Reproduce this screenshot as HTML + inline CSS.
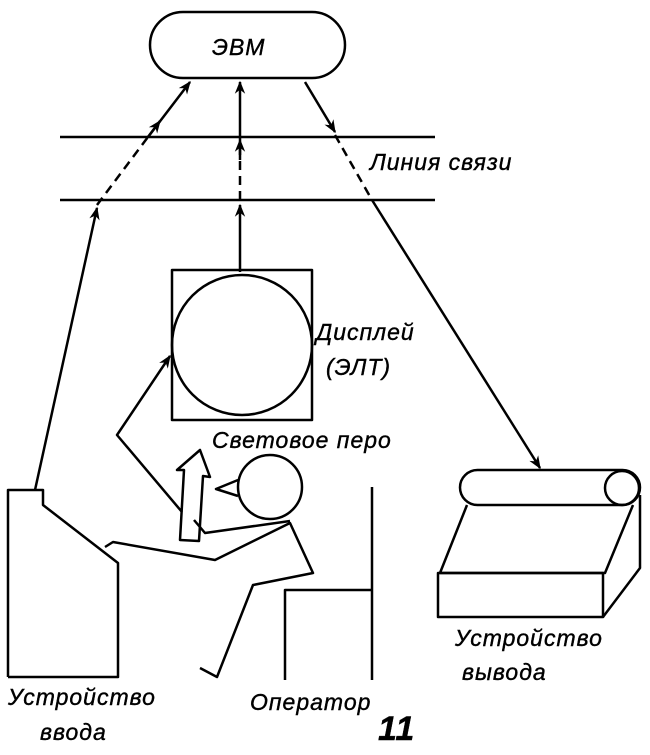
<!DOCTYPE html>
<html><head><meta charset="utf-8"><style>
html,body{margin:0;padding:0;background:#fff;}
svg{display:block;}
text{font-family:"Liberation Sans",sans-serif;font-style:italic;font-size:23px;fill:#000;stroke:#000;stroke-width:0.4;letter-spacing:1px;}
</style></head><body>
<svg width="650" height="755" viewBox="0 0 650 755" xmlns="http://www.w3.org/2000/svg">
<defs>
<marker id="a" viewBox="0 0 10 10" refX="9" refY="5" markerWidth="15" markerHeight="13" orient="auto" markerUnits="userSpaceOnUse"><path d="M0,1 L10,5 L0,9 L3,5 Z" fill="#000"/></marker>
</defs>
<g fill="none" stroke="#000" stroke-width="2.5" stroke-linejoin="round">
<rect x="150" y="12" width="195" height="66" rx="33"/>
<line x1="60" y1="137" x2="435" y2="137"/>
<line x1="60" y1="200" x2="435" y2="200"/>
<line x1="35" y1="490" x2="97" y2="208" marker-end="url(#a)"/>
<line x1="97" y1="205" x2="148" y2="137" stroke-dasharray="9,6"/>
<line x1="148" y1="137" x2="190" y2="82" marker-end="url(#a)"/>
<line x1="148" y1="137" x2="160" y2="121" marker-end="url(#a)"/>
<line x1="240" y1="272" x2="240" y2="205" marker-end="url(#a)"/>
<line x1="240" y1="200" x2="240" y2="137" stroke-dasharray="9,6"/>
<line x1="240" y1="160" x2="240" y2="140" marker-end="url(#a)"/>
<line x1="240" y1="137" x2="240" y2="82" marker-end="url(#a)"/>
<line x1="305" y1="82" x2="335" y2="132" marker-end="url(#a)"/>
<line x1="335" y1="135" x2="372" y2="200" stroke-dasharray="9,6"/>
<line x1="372" y1="200" x2="540" y2="468" marker-end="url(#a)"/>
<rect x="172" y="270" width="140" height="150"/>
<circle cx="242" cy="345" r="70"/>
<polyline points="182,512 117,435 170,356" marker-end="url(#a)"/>
<path d="M180,540 L184,470 L177,470 L200,450 L210,477 L203,476 L199,541 Z"/>
<circle cx="270" cy="487" r="32"/>
<path d="M238,480 L216,489 L238,496"/>
<polyline points="194,520 205,533 290,521"/>
<polyline points="105,547 113,542 215,560 290,523 313,573 253,585 217,677 200,668"/>
<line x1="372" y1="487" x2="372" y2="680"/>
<polyline points="285,680 285,590 372,590"/>
<polyline points="8,677 8,490 43,490 43,505 118,563 118,677 8,677"/>
<rect x="460" y="470" width="180" height="35" rx="17.5"/>
<circle cx="622" cy="488" r="17"/>
<polyline points="467,505 440,573 605,573 633,505"/>
<rect x="438" y="573" width="165" height="44"/>
<polyline points="640,495 640,568 603,617"/>
</g>
<text x="212" y="55">ЭВМ</text>
<text x="370" y="170">Линия связи</text>
<text x="316" y="340">Дисплей</text>
<text x="326" y="375">(ЭЛТ)</text>
<text x="212" y="448">Световое перо</text>
<text x="8" y="705">Устройство</text>
<text x="40" y="740">ввода</text>
<text x="250" y="710">Оператор</text>
<text x="378" y="740" style="font-size:34px;font-weight:bold">11</text>
<text x="455" y="646">Устройство</text>
<text x="462" y="680">вывода</text>
</svg>
</body></html>
